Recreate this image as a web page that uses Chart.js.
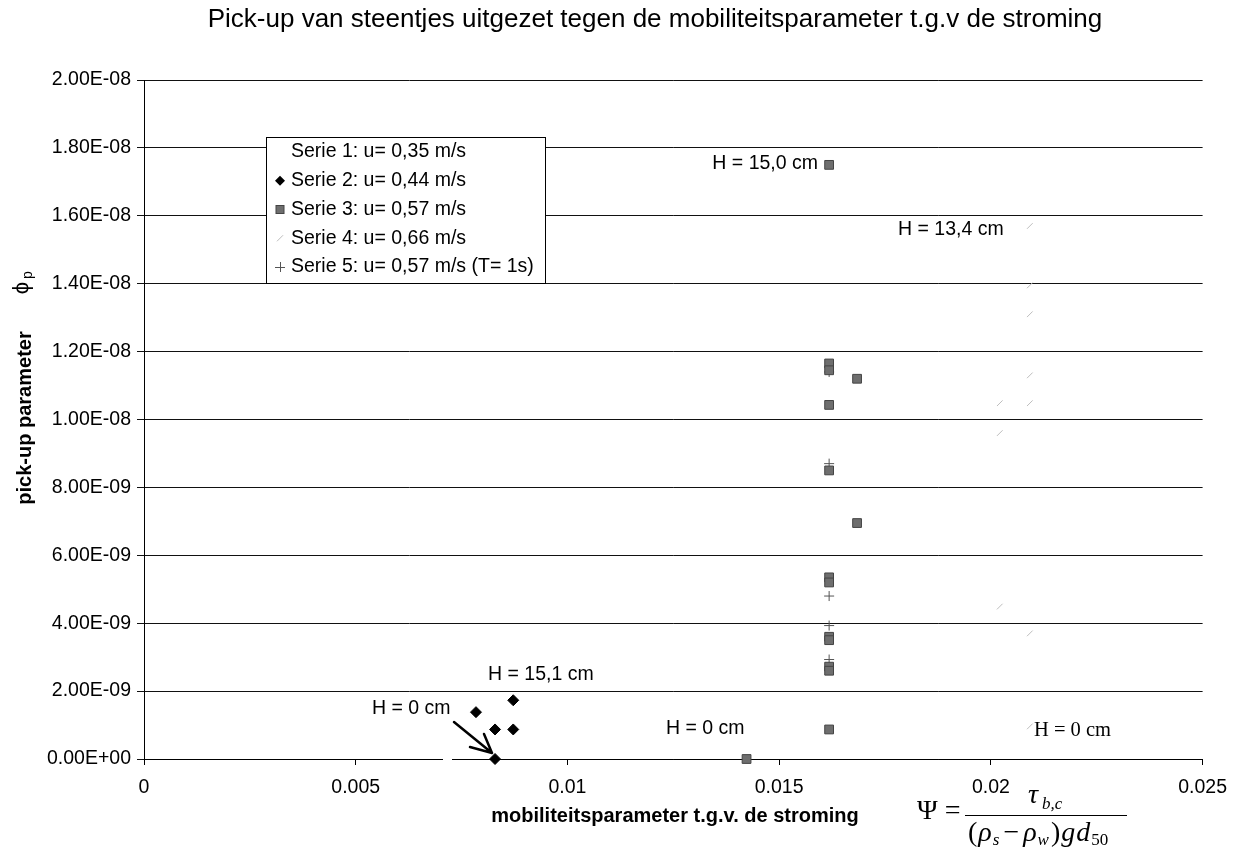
<!DOCTYPE html>
<html>
<head>
<meta charset="utf-8">
<script src="https://cdn.jsdelivr.net/npm/chart.js@4.4.0/dist/chart.umd.min.js"></script>
<style>
  html, body { margin: 0; padding: 0; background: #fff; }
  #wrap { position: relative; width: 1238px; height: 849px; }
</style>
</head>
<body>
<div id="wrap"><canvas id="chart" width="1238" height="849"></canvas></div>
<script>
// as-ticks
const xTicks = [0, 0.005, 0.01, 0.015, 0.02, 0.025];
const xTickLabels = ["0", "0.005", "0.01", "0.015", "0.02", "0.025"];
const yTicks = [0, 2e-9, 4e-9, 6e-9, 8e-9, 1e-8, 1.2e-8, 1.4e-8, 1.6e-8, 1.8e-8, 2e-8];
const yTickLabels = ["0.00E+00", "2.00E-09", "4.00E-09", "6.00E-09", "8.00E-09", "1.00E-08",
                     "1.20E-08", "1.40E-08", "1.60E-08", "1.80E-08", "2.00E-08"];

const serieNames = [
    "Serie 1: u= 0,35 m/s",
    "Serie 2: u= 0,44 m/s",
    "Serie 3: u= 0,57 m/s",
    "Serie 4: u= 0,66 m/s",
    "Serie 5: u= 0,57 m/s (T= 1s)"
];
const serie1X = [];
const serie1Y = [];
const serie2X = [0.00784, 0.00829, 0.00872, 0.00872, 0.00829];
const serie2Y = [1.38e-9, 0.87e-9, 0.87e-9, 1.73e-9, 0];
const serie3X = [0.01618, 0.01618, 0.01618, 0.01684, 0.01618, 0.01618, 0.01684, 0.01618, 0.01618,
                 0.01618, 0.01618, 0.01618, 0.01618, 0.01618, 0.01423];
const serie3Y = [17.5e-9, 11.65e-9, 11.45e-9, 11.2e-9, 10.43e-9, 8.5e-9, 6.95e-9, 5.35e-9, 5.2e-9,
                 3.6e-9, 3.5e-9, 2.72e-9, 2.6e-9, 0.87e-9, 0];
const serie4X = [0.02092, 0.02092, 0.02092, 0.02092, 0.02021, 0.02092, 0.02021, 0.02021, 0.02092, 0.02092];
const serie4Y = [15.7e-9, 13.95e-9, 13.1e-9, 11.3e-9, 10.48e-9, 10.48e-9, 9.6e-9, 4.49e-9, 3.7e-9, 0.96e-9];
const serie5X = [0.01618, 0.01618, 0.01618, 0.01618, 0.01618];
const serie5Y = [11.4e-9, 8.7e-9, 4.8e-9, 3.93e-9, 2.93e-9];

const FONT = 'Arial, "Liberation Sans", sans-serif';
const SERIF = '"Times New Roman", "Liberation Serif", serif';

function pts(xs, ys) {
    return xs.map((x, i) => ({ x: x, y: ys[i] }));
}

// marker tekenen voor de legenda
function drawMarker(ctx, kind, x, y) {
    ctx.save();
    if (kind === "diamond") {
        ctx.fillStyle = "#000";
        ctx.beginPath();
        ctx.moveTo(x, y - 5); ctx.lineTo(x + 5, y); ctx.lineTo(x, y + 5); ctx.lineTo(x - 5, y);
        ctx.closePath(); ctx.fill();
    } else if (kind === "square") {
        ctx.fillStyle = "#6e6e6e";
        ctx.strokeStyle = "#444";
        ctx.fillRect(x - 4, y - 4, 8, 8);
        ctx.strokeRect(x - 4, y - 4, 8, 8);
    } else if (kind === "faint") {
        ctx.strokeStyle = "#bdbdbd";
        ctx.beginPath(); ctx.moveTo(x - 3, y + 3); ctx.lineTo(x + 3, y - 3); ctx.stroke();
    } else if (kind === "cross") {
        ctx.strokeStyle = "#555";
        ctx.beginPath();
        ctx.moveTo(x - 5, y + 0.5); ctx.lineTo(x + 5, y + 0.5);
        ctx.moveTo(x + 0.5, y - 5); ctx.lineTo(x + 0.5, y + 5);
        ctx.stroke();
    }
    ctx.restore();
}

function text(ctx, s, x, y, font, align) {
    ctx.font = font;
    ctx.textAlign = align || "left";
    ctx.fillText(s, x, y);
}

const overlay = {
    id: "overlay",
    afterDraw(chart) {
        const ctx = chart.ctx;
        ctx.save();
        ctx.fillStyle = "#000";
        ctx.textBaseline = "middle";

        // titel
        text(ctx, "Pick-up van steentjes uitgezet tegen de mobiliteitsparameter t.g.v de stroming",
             655, 20, "26px " + FONT, "center");

        // as-titels
        text(ctx, "mobiliteitsparameter t.g.v. de stroming", 675, 816, "bold 20px " + FONT, "center");
        ctx.save();
        ctx.translate(25, 418);
        ctx.rotate(-Math.PI / 2);
        text(ctx, "pick-up parameter", 0, 0, "bold 20px " + FONT, "center");
        ctx.restore();
        ctx.save();
        ctx.translate(22, 285);
        ctx.rotate(-Math.PI / 2);
        text(ctx, "\u03d5", -3, 0, "22px " + FONT, "center");
        text(ctx, "p", 6, 6, "14px " + FONT, "left");
        ctx.restore();

        // legenda
        const lx = 266, ly = 137, lw = 279, lh = 146;
        ctx.fillStyle = "#fff";
        ctx.fillRect(lx, ly, lw, lh);
        ctx.strokeStyle = "#000";
        ctx.lineWidth = 1;
        ctx.strokeRect(lx + 0.5, ly + 0.5, lw, lh);
        const kinds = [null, "diamond", "square", "faint", "cross"];
        serieNames.forEach((name, i) => {
            const y = 152 + i * 28.75;
            if (kinds[i]) drawMarker(ctx, kinds[i], 280, y);
            ctx.fillStyle = "#000";
            text(ctx, name, 291, y, "19.5px " + FONT, "left");
        });

        // labels bij de punten
        ctx.fillStyle = "#000";
        text(ctx, "H = 15,0 cm", 818, 164, "19.5px " + FONT, "right");
        text(ctx, "H = 13,4 cm", 898, 230, "19.5px " + FONT, "left");
        text(ctx, "H = 15,1 cm", 488, 675, "19.5px " + FONT, "left");
        text(ctx, "H = 0 cm", 372, 709, "19.5px " + FONT, "left");
        text(ctx, "H = 0 cm", 666, 729, "19.5px " + FONT, "left");
        text(ctx, "H = 0 cm", 1034, 731, "20.5px " + SERIF, "left");

        // pijl naar H = 0
        ctx.fillStyle = "#fff";
        ctx.fillRect(443, 754, 9, 8);
        ctx.strokeStyle = "#000";
        ctx.lineWidth = 2.5;
        ctx.lineCap = "round";
        ctx.beginPath();
        ctx.moveTo(454, 722);
        ctx.lineTo(492, 753);
        ctx.moveTo(492, 753);
        ctx.lineTo(470, 747);
        ctx.moveTo(492, 753);
        ctx.lineTo(484, 734);
        ctx.stroke();

        // formule
        ctx.fillStyle = "#000";
        ctx.lineWidth = 1;
        ctx.lineCap = "butt";
        text(ctx, "\u03a8 =", 917, 812, "28px " + SERIF, "left");
        ctx.beginPath();
        ctx.moveTo(965, 815.5);
        ctx.lineTo(1127, 815.5);
        ctx.stroke();
        text(ctx, "\u03c4", 1028, 796, "italic 28px " + SERIF, "left");
        text(ctx, "b,c", 1042, 805, "italic 17px " + SERIF, "left");
        let x = 968;
        const y0 = 834;
        const parts = [
            ["(", "28px ", 0, 1], ["\u03c1", "italic 28px ", 0, 1], ["s", "italic 17px ", 7, 4],
            ["\u2212", "28px ", 0, 4], ["\u03c1", "italic 28px ", 0, 1], ["w", "italic 17px ", 7, 2],
            [")", "28px ", 0, 1], ["g", "italic 28px ", 0, 1], ["d", "italic 28px ", 0, 1], ["50", "17px ", 7, 0]
        ];
        parts.forEach(p => {
            ctx.font = p[1] + SERIF;
            ctx.textAlign = "left";
            ctx.fillText(p[0], x, y0 + p[2]);
            x += ctx.measureText(p[0]).width + p[3];
        });
        ctx.restore();
    }
};

const ctx = document.getElementById("chart").getContext("2d");
new Chart(ctx, {
    type: "scatter",
    data: {
        datasets: [
            { label: serieNames[0], data: pts(serie1X, serie1Y), pointRadius: 0 },
            {
                label: serieNames[1], data: pts(serie2X, serie2Y),
                pointStyle: "rectRot", pointRadius: 5.5,
                backgroundColor: "#000", borderColor: "#000", borderWidth: 1, clip: false
            },
            {
                label: serieNames[2], data: pts(serie3X, serie3Y),
                pointStyle: "rect", pointRadius: 6.2,
                backgroundColor: "#6e6e6e", borderColor: "#444", borderWidth: 1, clip: false
            },
            {
                label: serieNames[3], data: pts(serie4X, serie4Y),
                pointStyle: "line", pointRadius: 4, rotation: -45,
                borderColor: "#bdbdbd", borderWidth: 1, clip: false
            },
            {
                label: serieNames[4], data: pts(serie5X, serie5Y),
                pointStyle: "cross", pointRadius: 5,
                borderColor: "#555", borderWidth: 1, clip: false
            }
        ]
    },
    options: {
        responsive: false,
        animation: false,
        layout: { padding: { left: 0, top: 80, right: 35, bottom: 0 } },
        plugins: {
            legend: { display: false },
            title: { display: false },
            tooltip: { enabled: false }
        },
        scales: {
            x: {
                type: "linear",
                min: 0,
                max: 0.025,
                afterBuildTicks: s => { s.ticks = xTicks.map(v => ({ value: v })); },
                afterFit: s => { s.height = 90; },
                ticks: {
                    callback: (v, i) => xTickLabels[i],
                    font: { family: FONT, size: 19.5 },
                    color: "#000",
                    padding: 11,
                    maxRotation: 0
                },
                grid: { drawOnChartArea: false, drawTicks: true, tickLength: 6, color: "#000" },
                border: { display: true, color: "#000", width: 1 }
            },
            y: {
                type: "linear",
                min: 0,
                max: 2e-8,
                afterBuildTicks: s => { s.ticks = yTicks.map(v => ({ value: v })); },
                afterFit: s => { s.width = 144; },
                ticks: {
                    callback: (v, i) => yTickLabels[i],
                    font: { family: FONT, size: 19.5 },
                    color: "#000",
                    padding: 6
                },
                grid: { color: "#111", lineWidth: 1, drawTicks: true, tickLength: 7 },
                border: { display: true, color: "#000", width: 1 }
            }
        }
    },
    plugins: [overlay]
});
</script>
</body>
</html>
